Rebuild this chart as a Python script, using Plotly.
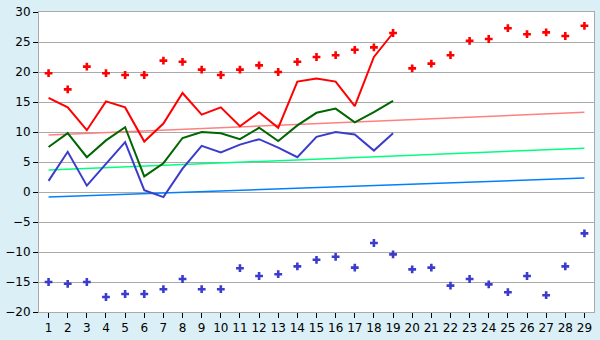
import plotly.graph_objects as go

categories = list(range(1, 30))
line_x = list(range(1, 20))

red_markers = [19.8, 17.1, 20.9, 19.8, 19.5, 19.5, 21.9, 21.7, 20.4, 19.5,
               20.4, 21.1, 20.0, 21.7, 22.5, 22.8, 23.7, 24.1, 26.5, 20.6,
               21.4, 22.8, 25.2, 25.5, 27.3, 26.3, 26.6, 26.0, 27.7]
red_line = [15.7, 14.1, 10.3, 15.1, 14.1, 8.4, 11.4, 16.5, 12.9, 14.1,
            10.95, 13.3, 10.7, 18.4, 18.9, 18.4, 14.3, 22.5, 26.5]
green_line = [7.5, 9.8, 5.8, 8.6, 10.8, 2.6, 4.8, 9.0, 10.0, 9.8,
              8.8, 10.7, 8.5, 11.1, 13.2, 13.9, 11.6, 13.3, 15.2]
blue_line = [1.85, 6.7, 1.06, 4.7, 8.3, 0.3, -0.85, 3.9, 7.7, 6.6,
             7.9, 8.8, 7.4, 5.8, 9.2, 10.0, 9.6, 6.9, 9.8]
blue_markers = [-15.0, -15.3, -15.0, -17.5, -17.0, -17.0, -16.2, -14.5, -16.2, -16.2,
                -12.7, -14.0, -13.7, -12.4, -11.3, -10.8, -12.6, -8.5, -10.4, -12.9,
                -12.6, -15.6, -14.5, -15.4, -16.7, -14.0, -17.2, -12.4, -6.9]
trend_x = [1, 29]
pink_trend = [9.48, 13.3]
green_trend = [3.65, 7.3]
blue_trend = [-0.84, 2.33]
y_ticks = [-20, -15, -10, -5, 0, 5, 10, 15, 20, 25, 30]

fig = go.Figure()
fig.add_trace(go.Scatter(x=trend_x, y=pink_trend, mode="lines",
                         line=dict(color="#ff8080", width=1.5)))
fig.add_trace(go.Scatter(x=trend_x, y=green_trend, mode="lines",
                         line=dict(color="#00ff80", width=1.5)))
fig.add_trace(go.Scatter(x=trend_x, y=blue_trend, mode="lines",
                         line=dict(color="#0080ff", width=1.5)))
fig.add_trace(go.Scatter(x=line_x, y=red_line, mode="lines",
                         line=dict(color="#ff0000", width=2)))
fig.add_trace(go.Scatter(x=line_x, y=green_line, mode="lines",
                         line=dict(color="#006600", width=2)))
fig.add_trace(go.Scatter(x=line_x, y=blue_line, mode="lines",
                         line=dict(color="#3c3ccc", width=2)))
fig.add_trace(go.Scatter(x=categories, y=red_markers, mode="markers",
                         marker=dict(symbol="cross", size=6.5, color="#ff0000",
                                     line=dict(width=0))))
fig.add_trace(go.Scatter(x=categories, y=blue_markers, mode="markers",
                         marker=dict(symbol="cross", size=6.5, color="#3c3ccc",
                                     line=dict(width=0))))

fig.update_layout(
    width=600, height=340,
    margin=dict(l=26, r=5, t=5, b=20),
    paper_bgcolor="#daeff6",
    plot_bgcolor="#ffffff",
    showlegend=False,
    font=dict(family="DejaVu Sans", size=12, color="#000000"),
    xaxis=dict(range=[0.5, 29.5], tickmode="array", tickvals=categories,
               showgrid=False, zeroline=False, showline=True, linecolor="#aaaaaa",
               linewidth=1, mirror=True, ticks="outside", ticklen=5,
               tickcolor="#000000", tickfont=dict(size=12),
               ticklabeloverflow="allow"),
    yaxis=dict(range=[-20, 30], tickmode="array", tickvals=y_ticks,
               showgrid=True, gridcolor="#aaaaaa", gridwidth=1, zeroline=False,
               showline=True, linecolor="#aaaaaa", linewidth=1, mirror=True,
               ticks="outside", ticklen=5, tickcolor="#000000",
               tickfont=dict(size=12), ticklabeloverflow="allow"),
)

fig.write_html("out.html")
